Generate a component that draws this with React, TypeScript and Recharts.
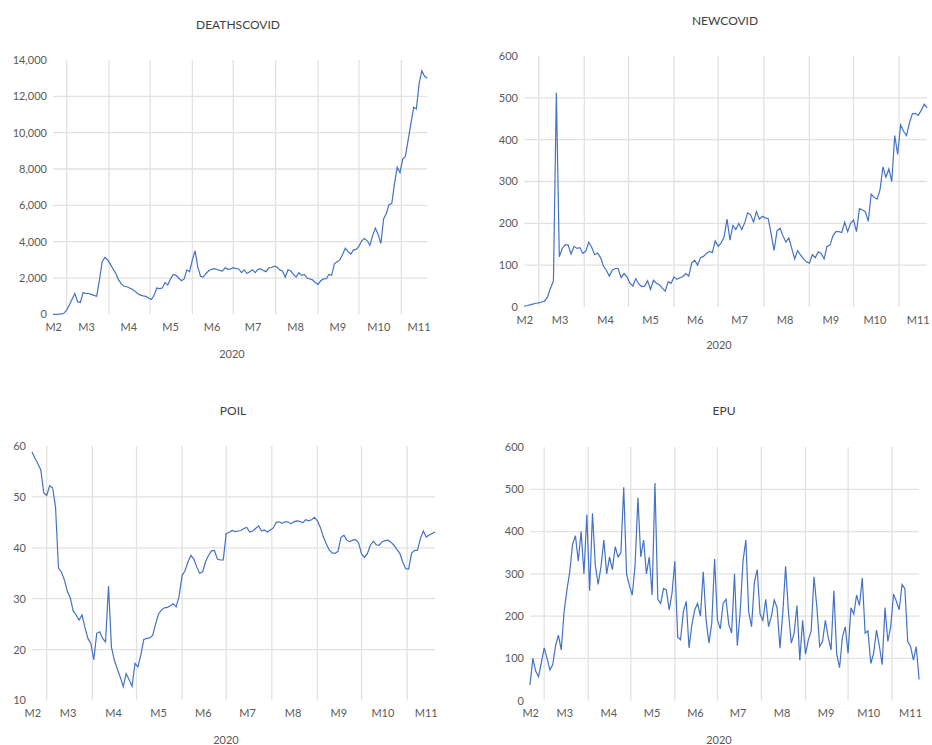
import { LineChart, Line, XAxis, YAxis, ReferenceLine } from "recharts"

// one reading every 2 days, starting 20 Feb 2020
const DAY_STEP = 2
const LAST_DAY = 274

const monthLabels = ["M2", "M3", "M4", "M5", "M6", "M7", "M8", "M9", "M10", "M11"]
const monthLabelDays = [0.5, 24.5, 55.5, 86, 116.5, 146.5, 177.5, 208.5, 238.5, 268]
const monthStartDays = [10, 41, 71, 102, 132, 163, 194, 224, 255]

const deathsCovid = [
  0, 0, 10, 30, 60, 250, 520, 850, 1150, 700,
  650, 1200, 1150, 1150, 1100, 1050, 1000, 1900, 2900, 3130,
  3000, 2750, 2500, 2250, 1900, 1680, 1550, 1520, 1450, 1380,
  1280, 1150, 1060, 1020, 990, 900, 820, 1050, 1450, 1420,
  1450, 1750, 1620, 1950, 2200, 2150, 2000, 1850, 1950, 2450,
  2350, 3000, 3500, 2600, 2100, 2050, 2250, 2400, 2480, 2520,
  2470, 2420, 2380, 2560, 2480, 2500, 2570, 2520, 2500, 2300,
  2450, 2250, 2350, 2450, 2300, 2480, 2500, 2420, 2350, 2560,
  2580, 2650, 2600, 2450, 2390, 2050, 2450, 2400, 2200, 2050,
  2300, 2150, 2200, 2000, 1950, 1900, 1750, 1650, 1850, 1950,
  1960, 2200, 2150, 2800, 2900, 3000, 3300, 3650, 3450, 3320,
  3550, 3580, 3750, 4050, 4180, 4050, 3800, 4350, 4750, 4400,
  3900, 5250, 5550, 6050, 6100, 7200, 8100, 7800, 8550, 8700,
  9600, 10500, 11400, 11300, 12700, 13400, 13100, 13000,
]

const newCovid = [
  2, 3, 5, 7, 9, 10, 12, 14, 24, 45,
  62, 512, 120, 140, 149, 148, 127, 145, 140, 142,
  128, 133, 155, 143, 125, 129, 118, 98, 88, 74,
  88, 92, 92, 70, 80, 72, 57, 50, 68, 55,
  49, 50, 63, 42, 64, 57, 53, 45, 38, 60,
  57, 72, 66, 70, 73, 80, 74, 105, 112, 100,
  118, 121, 128, 133, 130, 158, 145, 153, 167, 210,
  160, 195, 185, 200, 185, 201, 225, 221, 203, 228,
  210, 217, 213, 211, 175, 135, 182, 188, 170, 155,
  165, 140, 115, 135, 124, 115, 108, 105, 125, 118,
  132, 128, 115, 145, 148, 170, 180, 180, 178, 203,
  180, 200, 208, 180, 235, 232, 228, 205, 270, 262,
  258, 280, 335, 310, 330, 300, 410, 365, 435, 420,
  410, 440, 462, 463, 458, 470, 485, 476,
]

const pOil = [
  58.8, 57.6, 56.5, 55.3, 50.8, 50.3, 52.2, 51.8, 48, 36,
  35.2, 33.7, 31.5, 30.2, 27.6, 26.8, 25.8, 26.8, 24.3, 22.2,
  21.2, 18, 23.2, 23.5, 22.2, 21.5, 32.5, 20.5, 17.9, 16.2,
  14.6, 12.7, 15.3, 14.1, 12.8, 17.3, 16.6, 19, 22, 22.2,
  22.3, 22.8, 25, 27, 27.8, 28.2, 28.3, 28.6, 29, 28.4,
  30.5, 34.5, 35.5, 37.2, 38.5, 37.8, 36.2, 35, 35.3, 37.3,
  38.5, 39.4, 39.5, 37.8, 37.6, 37.6, 42.8, 43, 43.4, 43.2,
  43.3, 43.4, 43.8, 44, 43.1, 43.3, 43.8, 44.3, 43.3, 43.5,
  43.1, 43.5, 43.9, 45, 45.1, 44.8, 45.1, 45.1, 44.7, 45.1,
  45.3, 45.2, 44.9, 45.5, 45.3, 45.5, 46, 45.3, 44, 42.2,
  40.8, 39.6, 39, 38.9, 39.3, 42, 42.5, 41.5, 41.2, 41.5,
  41.6, 41, 38.8, 38.1, 38.9, 40.5, 41.3, 40.6, 40.5, 41.2,
  41.4, 41.5, 41.1, 40.5, 39.7, 38.9, 37.2, 35.9, 35.8, 38.9,
  39.5, 39.5, 41.8, 43.3, 42.1, 42.5, 42.8, 43.1,
]

const epu = [
  37, 100, 70, 57, 90, 125, 100, 73, 85, 130,
  155, 120, 210, 262, 305, 370, 390, 330, 400, 300,
  440, 260, 443, 320, 275, 317, 380, 300, 340, 310,
  364, 340, 350, 505, 300, 272, 250, 320, 480, 340,
  380, 300, 340, 250, 515, 240, 230, 265, 262, 215,
  254, 330, 150, 144, 210, 235, 125, 180, 215, 230,
  200, 305, 191, 136, 183, 335, 191, 170, 230, 240,
  180, 160, 300, 130, 210, 330, 380, 210, 175, 280,
  310, 205, 190, 240, 175, 200, 238, 220, 124, 207,
  318, 210, 136, 160, 225, 96, 190, 110, 144, 165,
  293, 222, 128, 140, 190, 150, 120, 260, 110, 78,
  150, 175, 112, 220, 205, 250, 225, 290, 160, 165,
  88, 112, 167, 130, 85, 220, 140, 175, 252, 235,
  215, 275, 265, 140, 128, 96, 128, 50,
]

const deathTicks = [0, 2000, 4000, 6000, 8000, 10000, 12000, 14000]
const newCovidTicks = [0, 100, 200, 300, 400, 500, 600]
const oilTicks = [10, 20, 30, 40, 50, 60]
const epuTicks = [0, 100, 200, 300, 400, 500, 600]

const LINE = "#4472C4"
const GRID = "#e2e2e2"
const FONT = "Lato, 'Liberation Sans', sans-serif"
const Y_W = 56
const PAD_T = 10
const PAD_R = 12
const X_H = 26

type Box = { left: number; top: number; right: number; bottom: number }

interface PanelProps {
  title: string
  values: number[]
  ticks: number[]
  box: Box
  titleAt: [number, number]
  yearAt: [number, number]
}

const fmt = (v: number) => v.toLocaleString("en-US")

function Panel({ title, values, ticks, box, titleAt, yearAt }: PanelProps) {
  const data = values.map((v, i) => ({ day: i * DAY_STEP, v }))
  const width = box.right - box.left + Y_W + PAD_R
  const height = box.bottom - box.top + PAD_T + X_H
  const tick = { fill: "#595959", fontSize: 11, fontFamily: FONT }

  return (
    <>
      <div style={{ position: "absolute", left: box.left - Y_W, top: box.top - PAD_T }}>
        <LineChart width={width} height={height} data={data} margin={{ top: PAD_T, right: PAD_R, bottom: 0, left: 0 }}>
          <XAxis
            dataKey="day"
            type="number"
            domain={[0, LAST_DAY]}
            ticks={monthLabelDays}
            interval={0}
            tickFormatter={(v: number) => monthLabels[monthLabelDays.indexOf(v)]}
            axisLine={false}
            tickLine={false}
            tickSize={0}
            tickMargin={9}
            height={X_H}
            tick={tick}
          />
          <YAxis
            type="number"
            domain={[ticks[0], ticks[ticks.length - 1]]}
            ticks={ticks}
            interval={0}
            tickFormatter={fmt}
            axisLine={false}
            tickLine={false}
            tickSize={0}
            tickMargin={6}
            width={Y_W}
            tick={tick}
          />
          {ticks.slice(1, -1).map((t) => (
            <ReferenceLine key={`h-${t}`} y={t} stroke={GRID} strokeWidth={1.3} />
          ))}
          {monthStartDays.map((d) => (
            <ReferenceLine key={`v-${d}`} x={d} stroke={GRID} strokeWidth={1.3} />
          ))}
          <Line type="linear" dataKey="v" stroke={LINE} strokeWidth={1.2} dot={false} isAnimationActive={false} />
        </LineChart>
      </div>
      <div
        style={{
          position: "absolute",
          left: titleAt[0],
          top: titleAt[1],
          transform: "translate(-50%, -50%)",
          fontFamily: FONT,
          fontSize: 12,
          color: "#404040",
          whiteSpace: "nowrap",
        }}
      >
        {title}
      </div>
      <div
        style={{
          position: "absolute",
          left: yearAt[0],
          top: yearAt[1],
          transform: "translate(-50%, -50%)",
          fontFamily: FONT,
          fontSize: 11,
          color: "#595959",
        }}
      >
        2020
      </div>
    </>
  )
}

export default function App() {
  return (
    <div
      style={{
        position: "absolute",
        left: 0,
        top: 0,
        width: 932,
        height: 745,
        overflow: "hidden",
        background: "#fff",
      }}
    >
      <Panel
        title="DEATHSCOVID"
        values={deathsCovid}
        ticks={deathTicks}
        box={{ left: 52.6, top: 60.3, right: 426.9, bottom: 314.7 }}
        titleAt={[238, 24]}
        yearAt={[232, 353]}
      />
      <Panel
        title="NEWCOVID"
        values={newCovid}
        ticks={newCovidTicks}
        box={{ left: 524, top: 56.3, right: 927.1, bottom: 307.3 }}
        titleAt={[725, 20]}
        yearAt={[719, 344]}
      />
      <Panel
        title="POIL"
        values={pOil}
        ticks={oilTicks}
        box={{ left: 32, top: 445.8, right: 435.1, bottom: 700.3 }}
        titleAt={[233, 410]}
        yearAt={[226, 739]}
      />
      <Panel
        title="EPU"
        values={epu}
        ticks={epuTicks}
        box={{ left: 530.4, top: 447, right: 919.5, bottom: 700.7 }}
        titleAt={[724, 410]}
        yearAt={[719, 739]}
      />
    </div>
  )
}
